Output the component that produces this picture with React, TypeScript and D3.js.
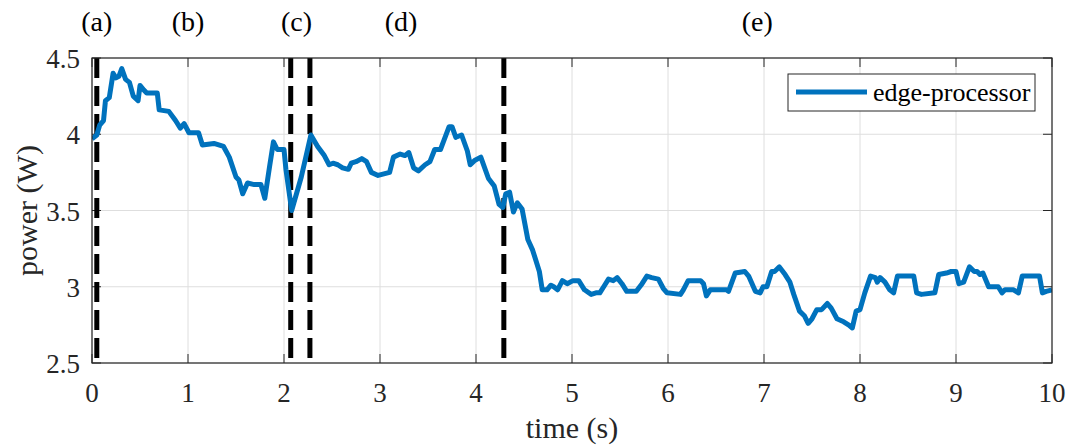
import React from 'react';
import * as d3 from 'd3';

// power trace (time in s, power in W)
const timeS = [
  0, 0.05, 0.08, 0.12, 0.14, 0.18, 0.22, 0.25, 0.28, 0.31, 0.35, 0.39, 0.43, 0.48, 0.5, 0.54, 0.57, 0.68, 0.7, 0.8,
  0.87, 0.92, 0.96, 1.01, 1.11, 1.15, 1.27, 1.37, 1.43, 1.5, 1.53, 1.57, 1.62, 1.69, 1.76, 1.8, 1.85, 1.89, 1.93, 2.0,
  2.02, 2.08, 2.18, 2.28, 2.35, 2.42, 2.47, 2.51, 2.56, 2.61, 2.67, 2.7, 2.75, 2.81, 2.86, 2.91, 2.98, 3.1, 3.14, 3.21,
  3.26, 3.3, 3.35, 3.4, 3.47, 3.52, 3.57, 3.63, 3.66, 3.72, 3.75, 3.79, 3.85, 3.91, 3.94, 3.99, 4.05, 4.13, 4.19, 4.24,
  4.28, 4.31, 4.35, 4.39, 4.43, 4.48, 4.54, 4.59, 4.62, 4.66, 4.69, 4.74, 4.78, 4.81, 4.85, 4.9, 4.95, 5.01, 5.07, 5.13,
  5.2, 5.25, 5.29, 5.34, 5.38, 5.43, 5.47, 5.52, 5.57, 5.67, 5.73, 5.78, 5.83, 5.9, 5.95, 5.99, 6.13, 6.16, 6.21, 6.34,
  6.37, 6.4, 6.44, 6.61, 6.63, 6.7, 6.8, 6.84, 6.91, 6.96, 6.99, 7.03, 7.08, 7.11, 7.16, 7.22, 7.27, 7.31, 7.37, 7.42,
  7.46, 7.5, 7.55, 7.6, 7.66, 7.7, 7.76, 7.83, 7.88, 7.92, 7.96, 8.0, 8.05, 8.11, 8.16, 8.18, 8.21, 8.26, 8.31, 8.35,
  8.39, 8.45, 8.56, 8.59, 8.64, 8.78, 8.82, 8.9, 8.95, 9.0, 9.03, 9.08, 9.14, 9.19, 9.22, 9.25, 9.28, 9.34, 9.41, 9.44,
  9.48, 9.51, 9.6, 9.65, 9.69, 9.79, 9.87, 9.9, 9.94, 10.0,
];
const powerW = [
  3.97, 3.995, 4.06, 4.09, 4.22, 4.24, 4.4, 4.37, 4.38, 4.43, 4.36, 4.34, 4.25, 4.22, 4.32, 4.29, 4.27, 4.27, 4.16, 4.15,
  4.09, 4.04, 4.07, 4.01, 4.01, 3.93, 3.94, 3.92, 3.85, 3.72, 3.7, 3.61, 3.68, 3.67, 3.67, 3.58, 3.79, 3.95, 3.9, 3.9,
  3.77, 3.5, 3.72, 3.995, 3.92, 3.86, 3.8, 3.81, 3.8, 3.78, 3.77, 3.81, 3.82, 3.84, 3.82, 3.75, 3.73, 3.75, 3.85, 3.87,
  3.86, 3.88, 3.78, 3.76, 3.8, 3.82, 3.9, 3.9, 3.95, 4.05, 4.05, 3.98, 3.995, 3.89, 3.8, 3.83, 3.85, 3.71, 3.66, 3.54,
  3.52, 3.61, 3.62, 3.49, 3.55, 3.51, 3.31, 3.24, 3.18, 3.1, 2.98, 2.98, 3.01, 3.0, 2.98, 3.04, 3.02, 3.04, 3.04, 2.98,
  2.95, 2.96, 2.96, 3.01, 3.05, 3.04, 3.06, 3.02, 2.97, 2.97, 3.02, 3.07, 3.06, 3.05, 2.99, 2.96, 2.95, 2.98, 3.04, 3.04,
  3.02, 2.94, 2.98, 2.98, 2.97, 3.09, 3.1, 3.07, 2.97, 2.96, 3.0, 3.0, 3.1, 3.1, 3.13, 3.08, 3.03, 2.95, 2.84, 2.81,
  2.76, 2.79, 2.85, 2.85, 2.89, 2.86, 2.79, 2.77, 2.75, 2.73, 2.84, 2.85, 2.96, 3.07, 3.06, 3.03, 3.06, 3.03, 2.98, 2.96,
  3.07, 3.07, 3.07, 2.96, 2.95, 2.96, 3.08, 3.09, 3.1, 3.1, 3.02, 3.03, 3.13, 3.1, 3.1, 3.08, 3.09, 3.0, 3.0, 3.0,
  2.96, 2.98, 2.98, 2.96, 3.07, 3.07, 3.07, 2.96, 2.97, 2.98,
];

// phase boundaries (dashed) and phase labels
const phaseLines = [0.05, 2.07, 2.27, 4.29];
const phaseNames = ['(a)', '(b)', '(c)', '(d)', '(e)'];
const phaseLabelT = [0.05, 1.0, 2.13, 3.22, 6.93];

const xTicks = [0, 1, 2, 3, 4, 5, 6, 7, 8, 9, 10];
const yTicks = [2.5, 3, 3.5, 4, 4.5];

const W = 1072;
const H = 445;
const left = 92;
const right = 1052;
const top = 58;
const bottom = 363;
const font = '"Liberation Serif", "Times New Roman", serif';
const axisColor = '#262626';
const blue = '#0072BD';

export default function App() {
  const x = d3.scaleLinear().domain([0, 10]).range([left, right]);
  const y = d3.scaleLinear().domain([2.5, 4.5]).range([bottom, top]);

  const pts = timeS.map((t, i) => [t, powerW[i]] as [number, number]);
  const line = d3
    .line<[number, number]>()
    .x((d) => x(d[0]))
    .y((d) => y(d[1]));

  return (
    <svg
      width={W}
      height={H}
      style={{ position: 'absolute', left: 0, top: 0, background: '#fff' }}
      fontFamily={font}
    >
      <defs>
        <clipPath id="plot">
          <rect x={left} y={top} width={right - left} height={bottom - top} />
        </clipPath>
      </defs>

      {/* grid */}
      {xTicks.map((t) => (
        <line key={'gx' + t} x1={x(t)} x2={x(t)} y1={top} y2={bottom} stroke="#dedede" strokeWidth={1} />
      ))}
      {yTicks.map((v) => (
        <line key={'gy' + v} x1={left} x2={right} y1={y(v)} y2={y(v)} stroke="#dedede" strokeWidth={1} />
      ))}

      {/* tick marks, inward on all four sides */}
      {xTicks.map((t) => (
        <g key={'tx' + t} stroke={axisColor} strokeWidth={1}>
          <line x1={x(t)} x2={x(t)} y1={bottom} y2={bottom - 9} />
          <line x1={x(t)} x2={x(t)} y1={top} y2={top + 9} />
        </g>
      ))}
      {yTicks.map((v) => (
        <g key={'ty' + v} stroke={axisColor} strokeWidth={1}>
          <line x1={left} x2={left + 9} y1={y(v)} y2={y(v)} />
          <line x1={right} x2={right - 9} y1={y(v)} y2={y(v)} />
        </g>
      ))}

      {/* phase boundaries */}
      {phaseLines.map((t) => (
        <line
          key={'pl' + t}
          x1={x(t)}
          x2={x(t)}
          y1={top}
          y2={bottom}
          stroke="#000"
          strokeWidth={5}
          strokeDasharray="20,8"
        />
      ))}

      <path d={line(pts) || ''} fill="none" stroke={blue} strokeWidth={5} strokeLinejoin="round" clipPath="url(#plot)" />

      {/* axes box */}
      <rect x={left} y={top} width={right - left} height={bottom - top} fill="none" stroke={axisColor} strokeWidth={1.2} />

      {/* tick labels */}
      {xTicks.map((t) => (
        <text key={'lx' + t} x={x(t)} y={bottom + 39} textAnchor="middle" fontSize={27} fill={axisColor}>
          {t}
        </text>
      ))}
      {yTicks.map((v) => (
        <text key={'ly' + v} x={left - 12} y={y(v) + 10} textAnchor="end" fontSize={27} fill={axisColor}>
          {v}
        </text>
      ))}

      {/* axis titles */}
      <text x={572} y={438} textAnchor="middle" fontSize={30} fill={axisColor}>
        time (s)
      </text>
      <text
        transform={`translate(37, ${(top + bottom) / 2}) rotate(-90)`}
        textAnchor="middle"
        fontSize={30}
        fill={axisColor}
      >
        power (W)
      </text>

      {/* phase labels */}
      {phaseNames.map((n, i) => (
        <text key={n} x={x(phaseLabelT[i])} y={31} textAnchor="middle" fontSize={28} fill="#000">
          {n}
        </text>
      ))}

      {/* legend */}
      <g>
        <rect x={788} y={74} width={247} height={37} fill="#fff" stroke={axisColor} strokeWidth={1} />
        <line x1={796} x2={867} y1={92} y2={92} stroke={blue} strokeWidth={5} />
        <text x={873} y={101} fontSize={26} fill="#000">
          edge-processor
        </text>
      </g>
    </svg>
  );
}
